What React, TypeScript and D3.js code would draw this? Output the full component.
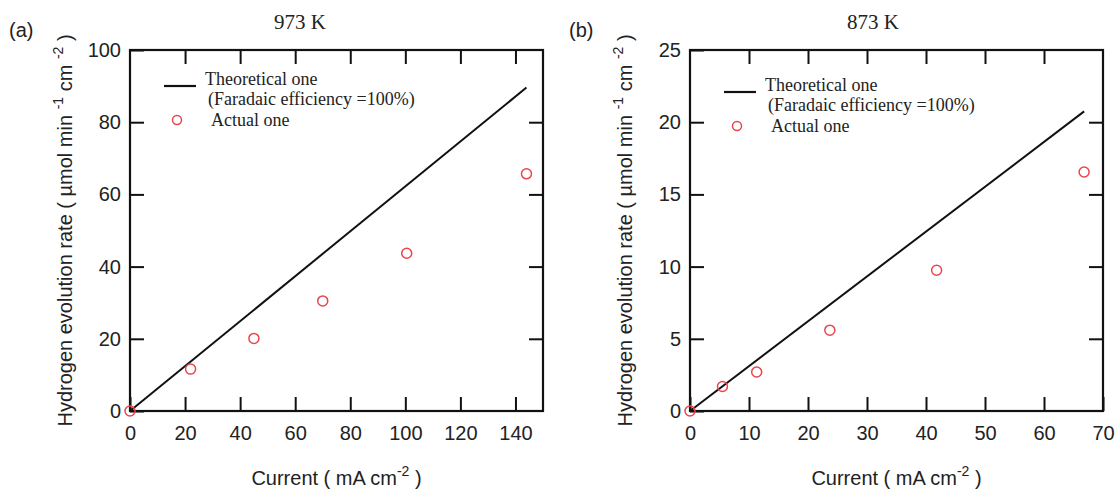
import React, { useRef, useEffect } from 'react';
import * as d3 from 'd3';

// panel (a) 973 K
const currentA = [0, 22, 45, 70, 100.5, 144];
const rateA = [0, 11.6, 20.1, 30.5, 43.7, 65.7];
const theoryCurrentA = [0, 144];
const theoryRateA = [0, 89.6];
const xTicksA = [0, 20, 40, 60, 80, 100, 120, 140];
const yTicksA = [0, 20, 40, 60, 80, 100];

// panel (b) 873 K
const currentB = [0, 5.5, 11.3, 23.7, 41.8, 66.8];
const rateB = [0, 1.7, 2.7, 5.6, 9.75, 16.55];
const theoryCurrentB = [0, 66.8];
const theoryRateB = [0, 20.75];
const xTicksB = [0, 10, 20, 30, 40, 50, 60, 70];
const yTicksB = [0, 5, 10, 15, 20, 25];

const sans = '"Liberation Sans", Arial, sans-serif';
const serif = '"Liberation Serif", "Times New Roman", serif';
const red = '#e8464c';

interface PanelCfg {
  ox: number;
  tag: string;
  title: string;
  titleX: number;
  xMax: number;
  yMax: number;
  xTicks: number[];
  yTicks: number[];
  cur: number[];
  rate: number[];
  thCur: number[];
  thRate: number[];
  legY: number;
}

const panels: PanelCfg[] = [
  { ox: 0, tag: '(a)', title: '973 K', titleX: 300, xMax: 150, yMax: 100, xTicks: xTicksA, yTicks: yTicksA,
    cur: currentA, rate: rateA, thCur: theoryCurrentA, thRate: theoryRateA, legY: 0 },
  { ox: 560, tag: '(b)', title: '873 K', titleX: 313, xMax: 70, yMax: 25, xTicks: xTicksB, yTicks: yTicksB,
    cur: currentB, rate: rateB, thCur: theoryCurrentB, thRate: theoryRateB, legY: 6 },
];

const App: React.FC = () => {
  const svgRef = useRef<SVGSVGElement | null>(null);

  useEffect(() => {
    const svg = d3.select(svgRef.current);
    svg.selectAll('*').remove();

    const left = 130, top = 50, w = 413, h = 361;
    const tick = 14;

    panels.forEach(p => {
      const g = svg.append('g').attr('transform', `translate(${p.ox},0)`);
      const x = d3.scaleLinear().domain([0, p.xMax]).range([left, left + w]);
      const y = d3.scaleLinear().domain([0, p.yMax]).range([top + h, top]);

      const inner = (t: number[], max: number) => t.filter(v => v > 0 && v < max);

      // bottom axis with labels
      const bx = g.append('g').attr('transform', `translate(0,${top + h})`)
        .call(d3.axisBottom(x).tickValues(p.xTicks).tickSizeInner(-tick).tickSizeOuter(0).tickPadding(15));
      // left axis with labels
      const ly = g.append('g').attr('transform', `translate(${left},0)`)
        .call(d3.axisLeft(y).tickValues(p.yTicks).tickSizeInner(-tick).tickSizeOuter(0).tickPadding(9));
      // top and right ticks only
      const tx = g.append('g').attr('transform', `translate(0,${top})`)
        .call(d3.axisTop(x).tickValues(inner(p.xTicks, p.xMax)).tickSizeInner(-tick).tickSizeOuter(0).tickFormat(() => ''));
      const ry = g.append('g').attr('transform', `translate(${left + w},0)`)
        .call(d3.axisRight(y).tickValues(inner(p.yTicks, p.yMax)).tickSizeInner(-tick).tickSizeOuter(0).tickFormat(() => ''));

      [bx, ly, tx, ry].forEach(a => {
        a.select('.domain').remove();
        a.selectAll('line').attr('stroke', '#111').attr('stroke-width', 2);
        a.selectAll('text').attr('font-family', sans).attr('font-size', 20).attr('fill', '#222');
      });

      g.append('rect')
        .attr('x', left).attr('y', top).attr('width', w).attr('height', h)
        .attr('fill', 'none').attr('stroke', '#111').attr('stroke-width', 2.2);

      // theoretical line
      const line = d3.line<number>().x(i => x(p.thCur[i])).y(i => y(p.thRate[i]));
      g.append('path').attr('d', line(p.thCur.map((_, i) => i)))
        .attr('fill', 'none').attr('stroke', '#111').attr('stroke-width', 2);

      // actual points
      g.selectAll('.pt').data(p.cur).enter().append('circle')
        .attr('cx', d => x(d)).attr('cy', (_, i) => y(p.rate[i])).attr('r', 5)
        .attr('fill', 'none').attr('stroke', red).attr('stroke-width', 1.5);

      // legend
      const lg = g.append('g').attr('transform', `translate(0,${p.legY})`);
      lg.append('line').attr('x1', 164).attr('x2', 196).attr('y1', 86).attr('y2', 86)
        .attr('stroke', '#111').attr('stroke-width', 2.2);
      lg.append('text').attr('x', 205).attr('y', 85).text('Theoretical one')
        .attr('font-family', serif).attr('font-size', 18).attr('fill', '#222');
      lg.append('text').attr('x', 208).attr('y', 105).text('(Faradaic efficiency =100%)')
        .attr('font-family', serif).attr('font-size', 18).attr('fill', '#222');
      lg.append('circle').attr('cx', 177).attr('cy', 120).attr('r', 4.5)
        .attr('fill', 'none').attr('stroke', red).attr('stroke-width', 1.5);
      lg.append('text').attr('x', 211).attr('y', 126).text('Actual one')
        .attr('font-family', serif).attr('font-size', 18).attr('fill', '#222');

      // title and tag
      g.append('text').attr('x', p.titleX).attr('y', 29).attr('text-anchor', 'middle')
        .attr('font-family', serif).attr('font-size', 21).attr('fill', '#222').text(p.title);
      g.append('text').attr('x', 9).attr('y', 37)
        .attr('font-family', sans).attr('font-size', 20).attr('fill', '#222').text(p.tag);

      // x label
      const xl = g.append('text').attr('x', left + w / 2).attr('y', 485).attr('text-anchor', 'middle')
        .attr('font-family', sans).attr('font-size', 20).attr('fill', '#222');
      xl.append('tspan').text('Current ( mA cm');
      xl.append('tspan').attr('dy', -9).attr('font-size', 14).text('-2');
      xl.append('tspan').attr('dy', 9).text(' )');

      // y label
      const yl = g.append('text')
        .attr('transform', `translate(72,${top + h / 2}) rotate(-90)`)
        .attr('text-anchor', 'middle')
        .attr('font-family', sans).attr('font-size', 20).attr('fill', '#222');
      yl.append('tspan').text('Hydrogen evolution rate ( µmol min ');
      yl.append('tspan').attr('dy', -9).attr('font-size', 14).text('-1');
      yl.append('tspan').attr('dy', 9).text('  cm ');
      yl.append('tspan').attr('dy', -9).attr('font-size', 14).text('-2');
      yl.append('tspan').attr('dy', 9).text('  )');
    });
  }, []);

  return (
    <svg ref={svgRef} width={1120} height={491}
      style={{ position: 'absolute', left: 0, top: 0, background: '#fff' }} />
  );
};

export default App;
